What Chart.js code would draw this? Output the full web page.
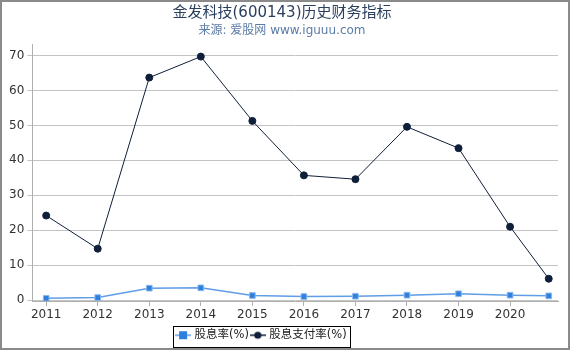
<!DOCTYPE html>
<html><head><meta charset="utf-8">
<script src="https://cdn.jsdelivr.net/npm/chart.js@4/dist/chart.umd.min.js"></script>
<style>
html,body{margin:0;padding:0;background:#fff;}
canvas{display:block;}
</style></head>
<body><canvas id="c" width="570" height="350"></canvas>
<script>
const years = [2011, 2012, 2013, 2014, 2015, 2016, 2017, 2018, 2019, 2020, 2020.75];
const tickYears = [2011, 2012, 2013, 2014, 2015, 2016, 2017, 2018, 2019, 2020];
const yTicks = [0, 10, 20, 30, 40, 50, 60, 70];
const dividendYield = [0.5, 0.7, 3.4, 3.5, 1.3, 1.0, 1.1, 1.4, 1.8, 1.4, 1.2];
const payoutRatio = [24.2, 14.7, 63.7, 69.7, 51.3, 35.7, 34.6, 49.6, 43.5, 21.0, 6.1];
const seriesNames = ['股息率(%)', '股息支付率(%)'];

const blue = '#2f7fdc', blueLine = '#5f9de6', navy = '#0f1f3a';

function legendIcon(lineColor, fill, style) {
  const c = document.createElement('canvas');
  c.width = 16; c.height = 10;
  const g = c.getContext('2d');
  g.strokeStyle = lineColor; g.lineWidth = 1.5;
  g.beginPath(); g.moveTo(0, 5); g.lineTo(16, 5); g.stroke();
  g.fillStyle = fill;
  if (style === 'rect') { g.fillRect(4, 1, 8, 8); }
  else { g.beginPath(); g.arc(8, 5, 3.6, 0, Math.PI * 2); g.fill(); }
  return c;
}
const icons = [legendIcon(blueLine, blue, 'rect'), legendIcon(navy, navy, 'circle')];

const framePlugin = {
  id: 'frame',
  afterLayout(chart) {
    const l = chart.legend;
    l.left -= 20; l.right -= 20;
    l.top += 2; l.bottom += 2;
  },
  afterDraw(chart) {
    const ctx = chart.ctx;
    ctx.save();
    ctx.strokeStyle = '#8a8a8a'; ctx.lineWidth = 2;
    ctx.strokeRect(1, 1, chart.width - 2, chart.height - 2);
    const l = chart.legend; const hb = l.legendHitBoxes;
    if (hb && hb.length) {
      const left = Math.min(...hb.map(b => b.left)) - 4;
      const right = Math.max(...hb.map(b => b.left + b.width)) + 4;
      ctx.strokeStyle = '#000'; ctx.lineWidth = 1;
      ctx.strokeRect(Math.round(left) + 0.5, Math.round(l.top) + 0.5, Math.round(right - left), Math.min(Math.round(l.height) - 1, chart.height - 3 - Math.round(l.top)));
    }
    ctx.restore();
  }
};

new Chart(document.getElementById('c'), {
  type: 'line',
  data: {
    datasets: [
      { label: seriesNames[0], data: years.map((x, i) => ({ x, y: dividendYield[i] })),
        borderColor: blueLine, backgroundColor: blue, borderWidth: 1.5,
        pointStyle: 'rect', pointRadius: 4, pointBackgroundColor: blue, pointBorderColor: '#8ab8ee', pointBorderWidth: 1 },
      { label: seriesNames[1], data: years.map((x, i) => ({ x, y: payoutRatio[i] })),
        borderColor: navy, backgroundColor: navy, borderWidth: 1,
        pointStyle: 'circle', pointRadius: 3.5, pointBackgroundColor: navy, pointBorderColor: navy }
    ]
  },
  options: {
    responsive: false, animation: false,
    devicePixelRatio: 1,
    layout: { padding: { left: 6, right: 12, top: 0, bottom: 1 } },
    plugins: {
      title: { display: true, text: '金发科技(600143)历史财务指标', color: '#2a3f5f',
        font: { family: 'DejaVu Sans, Noto Sans CJK SC', size: 15, weight: 'normal' }, padding: { top: 4, bottom: 2 } },
      subtitle: { display: true, text: '来源: 爱股网 www.iguuu.com', color: '#5b7ca6',
        font: { family: 'DejaVu Sans, Noto Sans CJK SC', size: 12 }, padding: { top: 0, bottom: 6 } },
      legend: { position: 'bottom',
        labels: { usePointStyle: true, color: '#222', padding: 3,
          font: { family: 'DejaVu Sans, Noto Sans CJK SC', size: 11.5 },
          generateLabels(chart) {
            return chart.data.datasets.map((d, i) => ({ text: d.label, pointStyle: icons[i], datasetIndex: i,
              fillStyle: 'transparent', strokeStyle: 'transparent', lineWidth: 0, fontColor: '#222' }));
          } } },
      tooltip: { enabled: false }
    },
    scales: {
      x: { type: 'linear', min: 2010.73, max: 2020.93,
        afterBuildTicks(s) { s.ticks = tickYears.map(v => ({ value: v })); },
        grid: { display: true, drawOnChartArea: false, drawTicks: true, tickLength: 5, color: '#b0b0b0' },
        border: { color: '#b0b0b0' },
        ticks: { color: '#333', autoSkip: false, maxRotation: 0, padding: 2,
          font: { family: 'DejaVu Sans', size: 12 }, callback: v => String(v) } },
      y: { min: -0.3, max: 73.2,
        afterBuildTicks(s) { s.ticks = yTicks.map(v => ({ value: v })); },
        grid: { color: '#c4c4c4', tickLength: 5 },
        border: { color: '#b0b0b0' },
        ticks: { color: '#333', padding: 3, font: { family: 'DejaVu Sans', size: 12 } } }
    }
  },
  plugins: [framePlugin]
});
</script></body></html>
